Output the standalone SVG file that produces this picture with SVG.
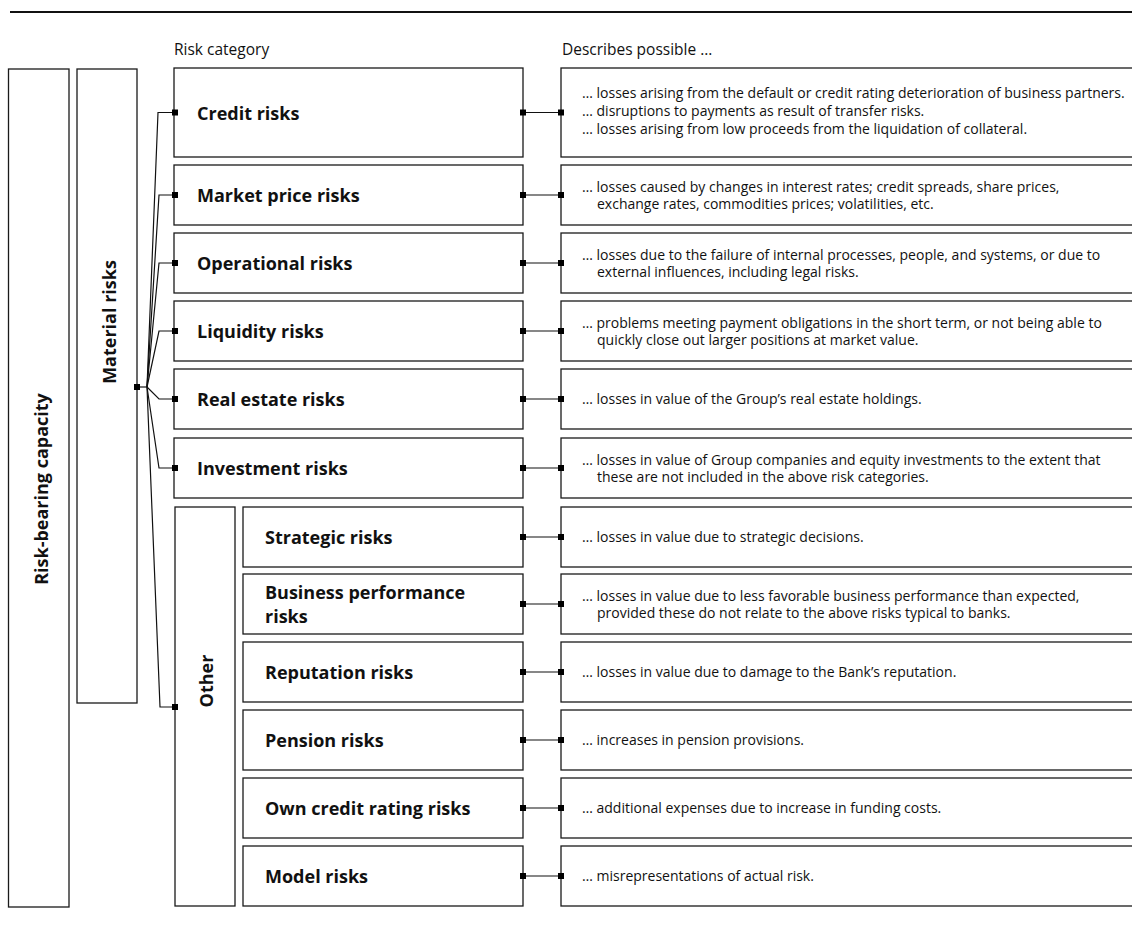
<svg xmlns="http://www.w3.org/2000/svg" width="1132" height="934" viewBox="0 0 1132 934">
<style>
.box{fill:none;stroke:#1a1a1a;stroke-width:1.3}
.lbl{font-family:"Open Sans","Liberation Sans",sans-serif;font-weight:700;font-size:18px;fill:#111}
.desc{font-family:"Open Sans","Liberation Sans",sans-serif;font-size:14px;fill:#111}
.hdr{font-family:"Open Sans","Liberation Sans",sans-serif;font-size:15.5px;fill:#111}
.ln{stroke:#111;stroke-width:1.2;fill:none}
.sq{fill:#000}
</style>
<defs>
<rect id="s" x="-3" y="-3" width="6" height="6" class="sq"/>
</defs>
<rect width="1132" height="934" fill="#fff"/>
<line x1="10" y1="12" x2="1132" y2="12" stroke="#111" stroke-width="2"/>
<text class="hdr" x="174" y="55">Risk category</text>
<text class="hdr" x="562" y="55">Describes possible …</text>

<g id="risk-bearing-capacity">
<rect class="box" x="8.5" y="69" width="60.5" height="838"/>
<text class="lbl" transform="translate(48,489) rotate(-90)" text-anchor="middle">Risk-bearing capacity</text>
</g>
<g id="material-risks">
<rect class="box" x="77" y="69" width="60" height="634"/>
<text class="lbl" transform="translate(116,322) rotate(-90)" text-anchor="middle">Material risks</text>
</g>
<g id="other">
<rect class="box" x="175" y="507" width="60" height="399"/>
<text class="lbl" transform="translate(213,681) rotate(-90)" text-anchor="middle">Other</text>
</g>

<g id="credit">
<rect class="box" x="174" y="68" width="349" height="89"/>
<text class="lbl" x="197" y="119.5">Credit risks</text>
</g>
<g id="market">
<rect class="box" x="174" y="165" width="349" height="60"/>
<text class="lbl" x="197" y="202">Market price risks</text>
</g>
<g id="operational">
<rect class="box" x="174" y="233" width="349" height="60"/>
<text class="lbl" x="197" y="270">Operational risks</text>
</g>
<g id="liquidity">
<rect class="box" x="174" y="301" width="349" height="60"/>
<text class="lbl" x="197" y="338">Liquidity risks</text>
</g>
<g id="real-estate">
<rect class="box" x="174" y="369" width="349" height="60"/>
<text class="lbl" x="197" y="406">Real estate risks</text>
</g>
<g id="investment">
<rect class="box" x="174" y="438" width="349" height="60"/>
<text class="lbl" x="197" y="475">Investment risks</text>
</g>
<g id="strategic">
<rect class="box" x="243" y="507" width="280" height="60"/>
<text class="lbl" x="265" y="544">Strategic risks</text>
</g>
<g id="business">
<rect class="box" x="243" y="574" width="280" height="60"/>
<text class="lbl" x="265" y="599">Business performance</text>
<text class="lbl" x="265" y="623">risks</text>
</g>
<g id="reputation">
<rect class="box" x="243" y="642" width="280" height="60"/>
<text class="lbl" x="265" y="679">Reputation risks</text>
</g>
<g id="pension">
<rect class="box" x="243" y="710" width="280" height="60"/>
<text class="lbl" x="265" y="747">Pension risks</text>
</g>
<g id="own-credit">
<rect class="box" x="243" y="778" width="280" height="60"/>
<text class="lbl" x="265" y="815">Own credit rating risks</text>
</g>
<g id="model">
<rect class="box" x="243" y="846" width="280" height="60"/>
<text class="lbl" x="265" y="883">Model risks</text>
</g>

<g id="desc-credit">
<rect class="box" x="561" y="68" width="600" height="89"/>
<text class="desc" x="582" y="98">… losses arising from the default or credit rating deterioration of business partners.</text>
<text class="desc" x="582" y="116">… disruptions to payments as result of transfer risks.</text>
<text class="desc" x="582" y="134">… losses arising from low proceeds from the liquidation of collateral.</text>
</g>
<g id="desc-market">
<rect class="box" x="561" y="165" width="600" height="60"/>
<text class="desc" x="582" y="191.5">… losses caused by changes in interest rates; credit spreads, share prices,</text>
<text class="desc" x="597" y="209">exchange rates, commodities prices; volatilities, etc.</text>
</g>
<g id="desc-operational">
<rect class="box" x="561" y="233" width="600" height="60"/>
<text class="desc" x="582" y="259.5">… losses due to the failure of internal processes, people, and systems, or due to</text>
<text class="desc" x="597" y="277">external influences, including legal risks.</text>
</g>
<g id="desc-liquidity">
<rect class="box" x="561" y="301" width="600" height="60"/>
<text class="desc" x="582" y="327.5">… problems meeting payment obligations in the short term, or not being able to</text>
<text class="desc" x="597" y="345">quickly close out larger positions at market value.</text>
</g>
<g id="desc-real-estate">
<rect class="box" x="561" y="369" width="600" height="60"/>
<text class="desc" x="582" y="404">… losses in value of the Group’s real estate holdings.</text>
</g>
<g id="desc-investment">
<rect class="box" x="561" y="438" width="600" height="60"/>
<text class="desc" x="582" y="464.5">… losses in value of Group companies and equity investments to the extent that</text>
<text class="desc" x="597" y="482">these are not included in the above risk categories.</text>
</g>
<g id="desc-strategic">
<rect class="box" x="561" y="507" width="600" height="60"/>
<text class="desc" x="582" y="542">… losses in value due to strategic decisions.</text>
</g>
<g id="desc-business">
<rect class="box" x="561" y="574" width="600" height="60"/>
<text class="desc" x="582" y="600.5">… losses in value due to less favorable business performance than expected,</text>
<text class="desc" x="597" y="618">provided these do not relate to the above risks typical to banks.</text>
</g>
<g id="desc-reputation">
<rect class="box" x="561" y="642" width="600" height="60"/>
<text class="desc" x="582" y="677">… losses in value due to damage to the Bank’s reputation.</text>
</g>
<g id="desc-pension">
<rect class="box" x="561" y="710" width="600" height="60"/>
<text class="desc" x="582" y="745">… increases in pension provisions.</text>
</g>
<g id="desc-own-credit">
<rect class="box" x="561" y="778" width="600" height="60"/>
<text class="desc" x="582" y="813">… additional expenses due to increase in funding costs.</text>
</g>
<g id="desc-model">
<rect class="box" x="561" y="846" width="600" height="60"/>
<text class="desc" x="582" y="881">… misrepresentations of actual risk.</text>
</g>

<g id="connectors">
<path class="ln" d="M137,387 H147"/>
<path class="ln" d="M147,387 L158,112.5 H175"/>
<path class="ln" d="M147,387 L159,195 H175"/>
<path class="ln" d="M147,387 L159,263 H175"/>
<path class="ln" d="M147,387 L159,331 H175"/>
<path class="ln" d="M147,387 L159,399 H175"/>
<path class="ln" d="M147,387 L159,468 H175"/>
<path class="ln" d="M147,387 L160,707 H175"/>
<use href="#s" x="137" y="387"/>
<use href="#s" x="175" y="112.5"/>
<use href="#s" x="175" y="195"/>
<use href="#s" x="175" y="263"/>
<use href="#s" x="175" y="331"/>
<use href="#s" x="175" y="399"/>
<use href="#s" x="175" y="468"/>
<use href="#s" x="175" y="707"/>
<g id="row-links">
<path class="ln" d="M523,112.5 H561 M523,195 H561 M523,263 H561 M523,331 H561 M523,399 H561 M523,468 H561 M523,537 H561 M523,604 H561 M523,672 H561 M523,740 H561 M523,808 H561 M523,876 H561"/>
<use href="#s" x="523" y="112.5"/><use href="#s" x="561" y="112.5"/>
<use href="#s" x="523" y="195"/><use href="#s" x="561" y="195"/>
<use href="#s" x="523" y="263"/><use href="#s" x="561" y="263"/>
<use href="#s" x="523" y="331"/><use href="#s" x="561" y="331"/>
<use href="#s" x="523" y="399"/><use href="#s" x="561" y="399"/>
<use href="#s" x="523" y="468"/><use href="#s" x="561" y="468"/>
<use href="#s" x="523" y="537"/><use href="#s" x="561" y="537"/>
<use href="#s" x="523" y="604"/><use href="#s" x="561" y="604"/>
<use href="#s" x="523" y="672"/><use href="#s" x="561" y="672"/>
<use href="#s" x="523" y="740"/><use href="#s" x="561" y="740"/>
<use href="#s" x="523" y="808"/><use href="#s" x="561" y="808"/>
<use href="#s" x="523" y="876"/><use href="#s" x="561" y="876"/>
</g>
</g>
</svg>
